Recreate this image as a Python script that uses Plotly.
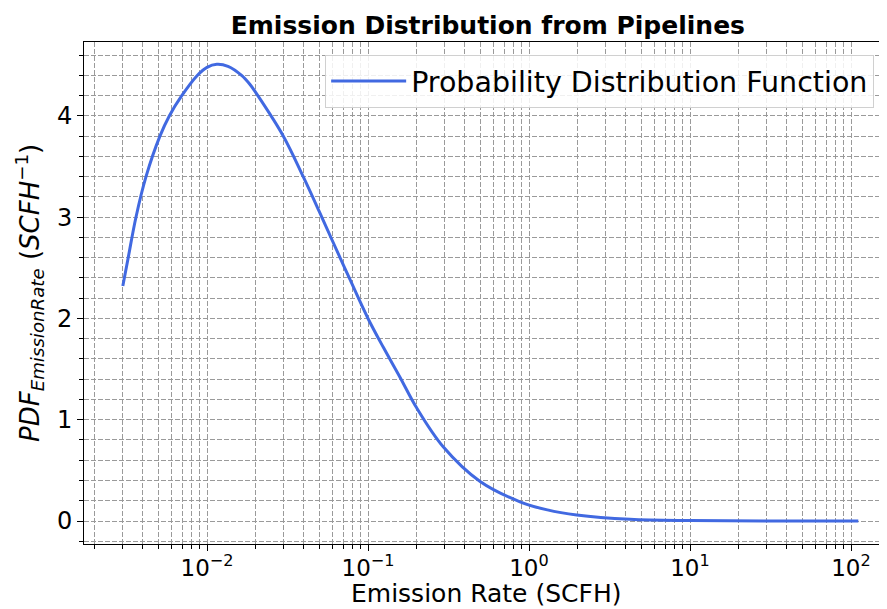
import plotly.graph_objects as go

# Data
emission_rate = [0.003, 0.00324, 0.00362, 0.00418, 0.0051, 0.00583, 0.00697, 0.0087,
                 0.0100, 0.0115, 0.0135, 0.0164, 0.0185, 0.0207, 0.0298, 0.0396, 0.05,
                 0.06, 0.077, 0.1, 0.125, 0.158, 0.2, 0.294, 0.497, 0.879, 1.3, 1.98,
                 4.24, 10.0, 30.0, 111.0]
pdf_values = [2.32, 2.60, 3.00, 3.40, 3.80, 4.00, 4.20, 4.40,
              4.48, 4.51, 4.49, 4.40, 4.31, 4.20, 3.80, 3.40, 3.05,
              2.77, 2.39, 2.00, 1.71, 1.42, 1.12, 0.73, 0.39, 0.19, 0.11, 0.06,
              0.017, 0.004, 0.001, 0.0]

x_tick_vals = [0.01, 0.1, 1, 10, 100]
x_tick_text = ["10<sup>\u22122</sup>", "10<sup>\u22121</sup>", "10<sup>0</sup>",
               "10<sup>1</sup>", "10<sup>2</sup>"]
x_minor_vals = [m * 10.0 ** e for e in range(-3, 3) for m in range(2, 10)]
y_tick_vals = [0, 1, 2, 3, 4]

FONT = "DejaVu Sans"
GRID = "#9a9a9a"
DASH = "5px,2px"

fig = go.Figure()
fig.add_trace(go.Scatter(
    x=emission_rate, y=pdf_values, mode="lines",
    line=dict(color="#4169E1", width=3, shape="spline", smoothing=1.0),
    name="Probability Distribution Function",
))

fig.update_layout(
    width=887, height=609,
    margin=dict(l=76, r=8, t=34, b=73),
    paper_bgcolor="white", plot_bgcolor="white",
    font=dict(family=FONT, color="black"),
    title=dict(text="<b>Emission Distribution from Pipelines</b>",
               x=0.541, xanchor="center", y=0.972, yanchor="middle",
               font=dict(size=25, family=FONT, color="black")),
    showlegend=True,
    legend=dict(x=0.984, xanchor="right", y=0.974, yanchor="top", itemwidth=75,
                bgcolor="rgba(255,255,255,0.85)", bordercolor="#d0d0d0", borderwidth=1,
                font=dict(size=28.5, family=FONT)),
    annotations=[
        dict(text="Emission Rate (SCFH)", xref="paper", yref="paper", x=0.5, y=0,
             xanchor="center", yanchor="top", yshift=-33, showarrow=False,
             font=dict(size=25, family=FONT, color="black")),
        dict(text="<i>PDF</i><sub><i>EmissionRate</i></sub> (<i>SCFH</i><sup>\u22121</sup>)",
             xref="paper", yref="paper", x=0, y=0.5, xanchor="center", yanchor="middle",
             xshift=-55, textangle=-90, showarrow=False,
             font=dict(size=26, family=FONT, color="black")),
    ],
)

fig.update_xaxes(
    type="log", range=[-2.764, 2.2236], automargin=False,
    tickmode="array", tickvals=x_tick_vals, ticktext=x_tick_text,
    tickfont=dict(size=23), ticks="outside", ticklen=6, tickcolor="black",
    ticklabelstandoff=-3,
    showline=True, linecolor="black", linewidth=1, mirror=True,
    showgrid=True, gridcolor=GRID, gridwidth=1, griddash=DASH,
    minor=dict(tickmode="array", tickvals=x_minor_vals, ticks="outside", ticklen=4,
               tickcolor="black", showgrid=True, gridcolor=GRID, gridwidth=1, griddash=DASH),
    zeroline=False,
)

fig.update_yaxes(
    range=[-0.227, 4.73], automargin=False,
    tickmode="array", tickvals=y_tick_vals,
    tickfont=dict(size=24), ticks="outside", ticklen=6, tickcolor="black",
    showline=True, linecolor="black", linewidth=1, mirror=False,
    showgrid=True, gridcolor=GRID, gridwidth=1, griddash=DASH,
    minor=dict(dtick=0.2, tick0=0, ticks="outside", ticklen=4, tickcolor="black",
               showgrid=True, gridcolor=GRID, gridwidth=1, griddash=DASH),
    zeroline=False,
)

fig.write_html("out.html")
